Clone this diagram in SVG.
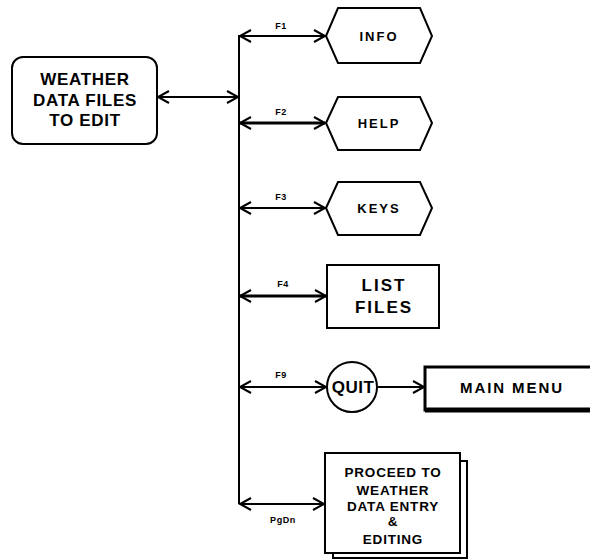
<svg xmlns="http://www.w3.org/2000/svg" width="590" height="560" viewBox="0 0 590 560">
<defs>
<style>
.t{font-family:"Liberation Sans",Arial,Helvetica,sans-serif;font-weight:bold;fill:#000;text-anchor:middle}
.big{font-size:17px;letter-spacing:0.7px}
.hex{font-size:13px;letter-spacing:2px}
.lst{font-size:17px;letter-spacing:2px}
.mid{font-size:13.5px;letter-spacing:0.8px}
.lab{font-size:9px;letter-spacing:0.6px}
.shape{fill:#fff;stroke:#000;stroke-width:2}
.ln{fill:none;stroke:#000;stroke-width:2}
.thk{fill:none;stroke:#000;stroke-width:3}
</style>
<marker id="ah" markerWidth="16" markerHeight="16" refX="12" refY="7" orient="auto-start-reverse" markerUnits="userSpaceOnUse">
<polyline points="1,1 12,7 1,13" fill="none" stroke="#000" stroke-width="2"/>
</marker>
</defs>
<rect width="590" height="560" fill="#fff"/>
<g id="connectors">
<line class="ln" x1="239" y1="35" x2="239" y2="504"/>
<line class="ln" x1="158" y1="97" x2="238" y2="97" marker-start="url(#ah)" marker-end="url(#ah)"/>
<line class="ln" x1="240" y1="36" x2="325" y2="36" marker-start="url(#ah)" marker-end="url(#ah)"/>
<line class="thk" x1="240" y1="123" x2="325" y2="123" marker-start="url(#ah)" marker-end="url(#ah)"/>
<line class="ln" x1="240" y1="208" x2="325" y2="208" marker-start="url(#ah)" marker-end="url(#ah)"/>
<line class="thk" x1="240" y1="296" x2="326" y2="296" marker-start="url(#ah)" marker-end="url(#ah)"/>
<line class="ln" x1="240" y1="387" x2="326" y2="387" marker-start="url(#ah)" marker-end="url(#ah)"/>
<line class="ln" x1="378" y1="387" x2="424" y2="387" marker-end="url(#ah)"/>
<line class="ln" x1="240" y1="504" x2="324" y2="504" marker-start="url(#ah)" marker-end="url(#ah)"/>
<text class="t lab" x="281" y="29">F1</text>
<text class="t lab" x="281" y="115">F2</text>
<text class="t lab" x="281" y="200">F3</text>
<text class="t lab" x="283" y="287">F4</text>
<text class="t lab" x="281" y="378">F9</text>
<text class="t lab" x="283" y="523">PgDn</text>
</g>
<g id="weather-files">
<rect class="shape" x="12" y="57" width="145" height="87" rx="11"/>
<text class="t big" x="85" y="85">WEATHER</text>
<text class="t big" x="85" y="106">DATA FILES</text>
<text class="t big" x="85" y="126">TO EDIT</text>
</g>
<g id="info">
<polygon class="shape" points="326,36 338,8 420,8 432,36 420,63 338,63"/>
<text class="t hex" x="379" y="41">INFO</text>
</g>
<g id="help">
<polygon class="shape" points="326,123 338,97 420,97 432,123 420,150 338,150"/>
<text class="t hex" x="379" y="128">HELP</text>
</g>
<g id="keys">
<polygon class="shape" points="326,208 338,182 420,182 432,208 420,235 338,235"/>
<text class="t hex" x="379" y="213">KEYS</text>
</g>
<g id="list-files">
<rect class="shape" x="327" y="265" width="112" height="63"/>
<text class="t lst" x="384" y="291">LIST</text>
<text class="t lst" x="384" y="313">FILES</text>
</g>
<g id="quit">
<circle class="shape" cx="352" cy="387" r="25"/>
<text class="t big" x="353" y="393" style="letter-spacing:0.5px">QUIT</text>
</g>
<g id="main-menu">
<rect x="425" y="367" width="170" height="43" fill="#fff" stroke="#000" stroke-width="3"/>
<line x1="425" y1="410" x2="590" y2="410" stroke="#000" stroke-width="5"/>
<text class="t" x="512" y="393" style="font-size:15px;letter-spacing:1.9px">MAIN MENU</text>
</g>
<g id="proceed">
<rect class="shape" x="333" y="461" width="134" height="97"/>
<rect class="shape" x="325" y="453" width="135" height="100"/>
<text class="t mid" x="393" y="477">PROCEED TO</text>
<text class="t mid" x="393" y="495">WEATHER</text>
<text class="t mid" x="393" y="511">DATA ENTRY</text>
<text class="t mid" x="393" y="526">&amp;</text>
<text class="t mid" x="393" y="544">EDITING</text>
</g>
</svg>
